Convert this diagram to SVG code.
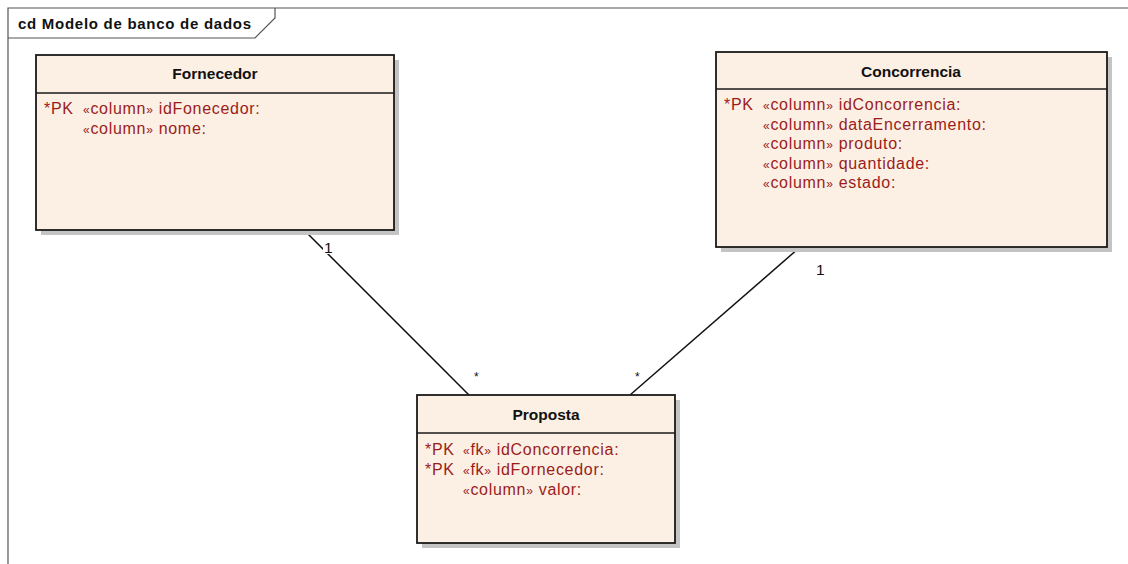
<svg xmlns="http://www.w3.org/2000/svg" width="1128" height="564" viewBox="0 0 1128 564">
  <style>
    .frame { fill: none; stroke: #555; stroke-width: 1.2; }
    .shadow { fill: #c4c4c4; }
    .box { fill: #fbf0e3; stroke: #1a1a1a; stroke-width: 1.8; }
    .sep { stroke: #1a1a1a; stroke-width: 1.6; }
    .title { font-family: "Liberation Sans", Arial, sans-serif; font-size: 15.5px; font-weight: bold; fill: #111; text-anchor: middle; }
    .attr { font-family: "Liberation Sans", Arial, sans-serif; font-size: 16px; letter-spacing: 0.7px; fill: #9b1c1c; }
    .st { font-size: 12px; }
    .frametitle { font-family: "Liberation Sans", Arial, sans-serif; font-size: 15px; font-weight: bold; fill: #111; }
    .conn { stroke: #111; stroke-width: 1.5; fill: none; }
    .mult { font-family: "Liberation Sans", Arial, sans-serif; font-size: 15.5px; fill: #111; }
    .star { font-family: "Liberation Sans", Arial, sans-serif; font-size: 12px; fill: #111; }
  </style>

  <rect width="1128" height="564" fill="#fff"/>

  <!-- diagram frame with name tab -->
  <g id="frame">
    <path class="frame" d="M8,564 V8 H1128"/>
    <path class="frame" d="M8,38 H255 L275,18 V8"/>
    <text class="frametitle" x="18" y="29" textLength="233" lengthAdjust="spacing">cd Modelo de banco de dados</text>
  </g>

  <!-- associations -->
  <g id="connectors">
    <line class="conn" x1="305" y1="231" x2="469" y2="395"/>
    <line class="conn" x1="799" y1="248" x2="630" y2="395"/>
    <rect x="323" y="238" width="13" height="16" fill="#fff"/>
    <text class="mult" x="324" y="253">1</text>
    <text class="star" x="474" y="381">*</text>
    <rect x="634" y="369" width="9" height="14" fill="#fff"/>
    <text class="star" x="635" y="381">*</text>
    <text class="mult" x="816" y="275">1</text>
  </g>

  <g id="fornecedor">
    <rect class="shadow" x="41" y="60" width="358" height="175"/>
    <rect class="box" x="36" y="55" width="358" height="175"/>
    <line class="sep" x1="36" y1="93" x2="394" y2="93"/>
    <text class="title" x="215" y="79">Fornecedor</text>
    <text class="attr" x="44" y="114">*PK</text>
    <text class="attr" x="83" y="114"><tspan class="st">«</tspan>column<tspan class="st">»</tspan> idFonecedor:</text>
    <text class="attr" x="83" y="134"><tspan class="st">«</tspan>column<tspan class="st">»</tspan> nome:</text>
  </g>

  <g id="concorrencia">
    <rect class="shadow" x="721" y="57" width="391" height="195"/>
    <rect class="box" x="716" y="52" width="391" height="195"/>
    <line class="sep" x1="716" y1="89" x2="1107" y2="89"/>
    <text class="title" x="911" y="77">Concorrencia</text>
    <text class="attr" x="724" y="110">*PK</text>
    <text class="attr" x="763" y="110"><tspan class="st">«</tspan>column<tspan class="st">»</tspan> idConcorrencia:</text>
    <text class="attr" x="763" y="130"><tspan class="st">«</tspan>column<tspan class="st">»</tspan> dataEncerramento:</text>
    <text class="attr" x="763" y="149"><tspan class="st">«</tspan>column<tspan class="st">»</tspan> produto:</text>
    <text class="attr" x="763" y="169"><tspan class="st">«</tspan>column<tspan class="st">»</tspan> quantidade:</text>
    <text class="attr" x="763" y="188"><tspan class="st">«</tspan>column<tspan class="st">»</tspan> estado:</text>
  </g>

  <g id="proposta">
    <rect class="shadow" x="422" y="400" width="258" height="148"/>
    <rect class="box" x="417" y="395" width="258" height="148"/>
    <line class="sep" x1="417" y1="433" x2="675" y2="433"/>
    <text class="title" x="546" y="420">Proposta</text>
    <text class="attr" x="425" y="455">*PK</text>
    <text class="attr" x="463" y="455"><tspan class="st">«</tspan>fk<tspan class="st">»</tspan> idConcorrencia:</text>
    <text class="attr" x="425" y="475">*PK</text>
    <text class="attr" x="463" y="475"><tspan class="st">«</tspan>fk<tspan class="st">»</tspan> idFornecedor:</text>
    <text class="attr" x="463" y="495"><tspan class="st">«</tspan>column<tspan class="st">»</tspan> valor:</text>
  </g>
</svg>
